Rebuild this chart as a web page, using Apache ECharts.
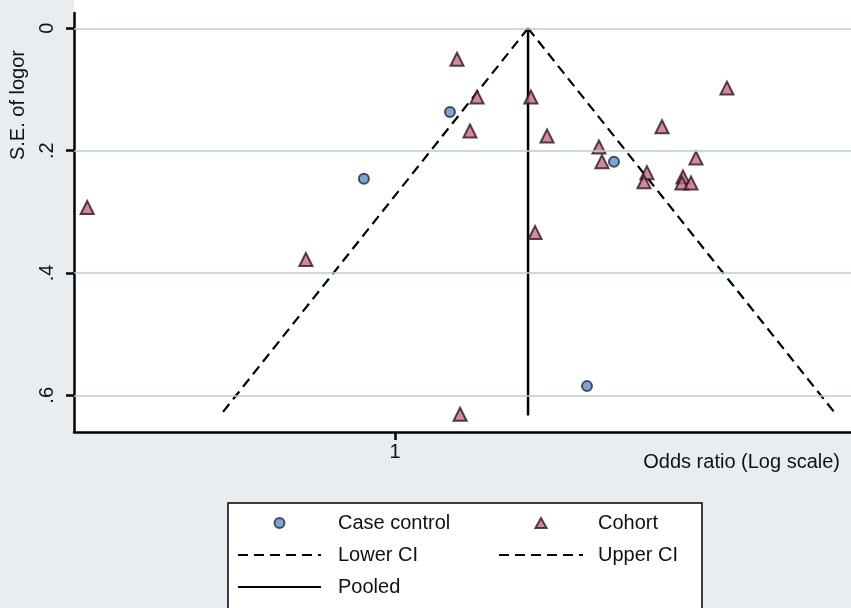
<!DOCTYPE html>
<html>
<head>
<meta charset="utf-8">
<script src="https://cdn.jsdelivr.net/npm/echarts@6/dist/echarts.min.js"></script>
<style>
  html, body { margin: 0; padding: 0; background: #e9edf0; }
  #chart { width: 851px; height: 608px; }
</style>
</head>
<body>
<div id="chart"></div>
<script>
// Funnel plot: odds ratio (log scale) against standard error of log OR
const FONT = '"Liberation Sans", Arial, Helvetica, sans-serif';

// Case control studies
const caseControlOR = [1.248, 0.882, 2.418, 2.169];
const caseControlSE = [0.137, 0.246, 0.218, 0.585];

// Cohort studies
const cohortOR = [0.289, 1.284, 1.392, 1.353, 1.730, 1.846, 2.276, 2.304, 2.935, 3.814,
                  3.366, 2.762, 2.729, 3.194, 3.181, 3.299, 1.759, 0.698, 1.300];
const cohortSE = [0.293, 0.0505, 0.1125, 0.168, 0.1125, 0.176, 0.194, 0.218, 0.161, 0.0978,
                  0.212, 0.236, 0.251, 0.243, 0.253, 0.253, 0.334, 0.378, 0.631];

// Pooled estimate and pseudo 95% confidence limits
const pooledOR = 1.71;
const funnelSE = [0, 0.632];
const lowerCI = [1.71, 0.495];
const upperCI = [1.71, 5.93];

// Axis settings
const xRange = [0.274, 6.29];
const xTicks = [1];
const yRange = [-0.025, 0.66];
const yTicks = [0, 0.2, 0.4, 0.6];
const refLines = [yRange[0], 0, 0.2, 0.4, 0.6];

const zip = (xs, ys) => xs.map((x, i) => [x, ys[i]]);

const chart = echarts.init(document.getElementById('chart'), null, { renderer: 'canvas' });

const textBase = { fontFamily: FONT, fontSize: 20, color: '#111' };
const lineSeriesItem = { color: '#000', opacity: 0 };

const option = {
  backgroundColor: '#e9edf0',
  animation: false,
  grid: {
    left: 74, right: 0, top: 13, bottom: 176,
    show: true, backgroundColor: '#ffffff', borderWidth: 0
  },
  xAxis: {
    type: 'log',
    min: xRange[0], max: xRange[1],
    axisLine: { show: true, onZero: false, lineStyle: { color: '#000', width: 2.5 } },
    axisTick: { show: true, customValues: xTicks, length: 8, lineStyle: { color: '#000', width: 2.5 } },
    axisLabel: { customValues: xTicks, margin: 10, ...textBase, formatter: v => String(v) },
    splitLine: { show: false },
    minorTick: { show: false }
  },
  yAxis: {
    type: 'value',
    inverse: true,
    min: yRange[0], max: yRange[1],
    axisLine: { show: true, onZero: false, lineStyle: { color: '#000', width: 2.5 } },
    axisTick: { show: true, customValues: yTicks, length: 8, lineStyle: { color: '#000', width: 2.5 } },
    axisLabel: {
      customValues: yTicks, rotate: 90, margin: 17, ...textBase,
      formatter: v => (v === 0 ? '0' : String(+v.toFixed(1)).replace(/^0\./, '.'))
    },
    splitLine: { show: false }
  },
  legend: [
    {
      data: [
        { name: 'Case control', icon: 'circle' },
        'Lower CI',
        'Pooled'
      ],
      orient: 'vertical', left: 237, top: 513, padding: 0,
      itemWidth: 83, itemHeight: 10, itemGap: 12, z: 10, symbolKeepAspect: true,
      textStyle: { ...textBase, lineHeight: 20, padding: [0, 0, 0, 12] }
    },
    {
      data: [
        { name: 'Cohort', icon: 'path://M5,0 L10,9 L0,9 Z' },
        'Upper CI'
      ],
      orient: 'vertical', left: 498, top: 513, padding: 0,
      itemWidth: 84, itemHeight: 10, itemGap: 12, z: 10, symbolKeepAspect: true,
      textStyle: { ...textBase, lineHeight: 20, padding: [0, 0, 0, 10] }
    }
  ],
  graphic: [
    { type: 'rect', z: 0, shape: { x: 74, y: 0, width: 780, height: 13 }, style: { fill: '#ffffff' } },
    { type: 'rect', z: 1, shape: { x: 228, y: 503, width: 474, height: 130 },
      style: { fill: '#ffffff', stroke: '#000', lineWidth: 1.5 } },
    { type: 'text', z: 5, x: 18, y: 105, rotation: Math.PI / 2,
      style: { text: 'S.E. of logor', font: '20px ' + FONT, fill: '#111', align: 'center', verticalAlign: 'middle' } },
    { type: 'text', z: 5, x: 840, y: 462,
      style: { text: 'Odds ratio (Log scale)', font: '20px ' + FONT, fill: '#111', align: 'right', verticalAlign: 'middle' } }
  ],
  series: [
    {
      name: 'Gridlines', type: 'line', data: [], silent: true,
      markLine: {
        silent: true, symbol: 'none', label: { show: false },
        lineStyle: { color: '#b9ccd6', width: 1.5, type: 'solid' },
        data: refLines.map(v => ({ yAxis: v }))
      }
    },
    {
      name: 'Lower CI', type: 'line', data: zip(lowerCI, funnelSE),
      symbol: 'none', z: 3,
      lineStyle: { color: '#000', width: 2.2, type: [10, 6] }, itemStyle: lineSeriesItem
    },
    {
      name: 'Upper CI', type: 'line', data: zip(upperCI, funnelSE),
      symbol: 'none', z: 3,
      lineStyle: { color: '#000', width: 2.2, type: [10, 6] }, itemStyle: lineSeriesItem
    },
    {
      name: 'Pooled', type: 'line', data: [[pooledOR, 0], [pooledOR, 0.633]],
      symbol: 'none', z: 3,
      lineStyle: { color: '#000', width: 2.5, type: 'solid' }, itemStyle: lineSeriesItem
    },
    {
      name: 'Case control', type: 'scatter', data: zip(caseControlOR, caseControlSE),
      symbol: 'circle', symbolSize: 10, symbolKeepAspect: true, z: 4,
      itemStyle: { color: '#5f8fc2', borderColor: '#1d2b48', borderWidth: 2 }
    },
    {
      name: 'Cohort', type: 'scatter', data: zip(cohortOR, cohortSE),
      symbol: 'triangle', symbolSize: 13, symbolKeepAspect: true, z: 4,
      itemStyle: { color: '#c86b7c', borderColor: '#2a1820', borderWidth: 2 }
    }
  ]
};

chart.setOption(option);
</script>
</body>
</html>
